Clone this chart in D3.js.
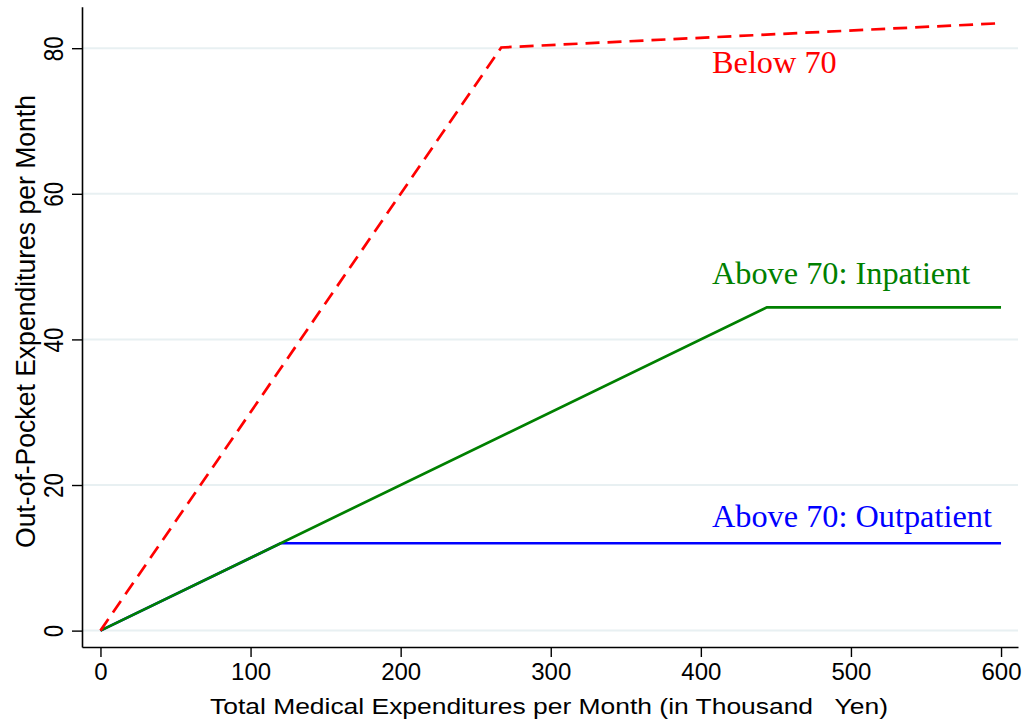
<!DOCTYPE html>
<html>
<head>
<meta charset="utf-8">
<script src="https://cdn.jsdelivr.net/npm/d3@7"></script>
<style>
  body { margin: 0; background: #fff; }
  svg { display: block; }
</style>
</head>
<body>
<svg id="chart" width="1026" height="726"></svg>
<script>
// data (thousand yen)
var xTicks = [0, 100, 200, 300, 400, 500, 600];
var yTicks = [0, 20, 40, 60, 80];

var below70X = [0, 267, 600];
var below70Y = [0, 80.1, 83.43];

var inpatientX = [0, 444, 600];
var inpatientY = [0, 44.4, 44.4];

var outpatientX = [0, 120, 600];
var outpatientY = [0, 12, 12];

var seriesNames = ["Below 70", "Above 70: Inpatient", "Above 70: Outpatient"];
var seriesColors = ["#ff0000", "#008000", "#0000ff"];

var svg = d3.select("#chart");
var font = "'Liberation Sans', Arial, Helvetica, sans-serif";

var x = d3.scaleLinear().domain([-12.3, 611.3]).range([82, 1018]);
var y = d3.scaleLinear().domain([-2.25, 85.7]).range([647, 6.7]);

// grid lines
svg.selectAll("line.ygrid")
    .data(yTicks)
    .enter()
    .append("line")
    .attr("class", "ygrid")
    .attr("x1", x.range()[0])
    .attr("x2", x.range()[1])
    .attr("y1", function (d) { return y(d); })
    .attr("y2", function (d) { return y(d); })
    .attr("stroke", "#e8f0f2")
    .attr("stroke-width", 2);

// x axis
var xaxis = d3.axisBottom(x).tickValues(xTicks).tickSize(10).tickSizeOuter(0).tickPadding(6);
var gx = svg.append("g")
    .attr("transform", "translate(0," + y.range()[0] + ")")
    .call(xaxis);
gx.select(".domain").attr("stroke", "#000").attr("stroke-width", 1.6);
gx.selectAll(".tick line").attr("stroke", "#000").attr("stroke-width", 1.4);
gx.selectAll(".tick text")
    .attr("font-family", font)
    .attr("font-size", 24)
    .attr("fill", "#000");

// y axis (labels turned, glyphs a bit wider like the original)
var yaxis = d3.axisLeft(y).tickValues(yTicks).tickSize(10).tickSizeOuter(0);
var gy = svg.append("g")
    .attr("transform", "translate(" + x.range()[0] + ",0)")
    .call(yaxis);
gy.select(".domain").attr("stroke", "#000").attr("stroke-width", 1.6);
gy.selectAll(".tick line").attr("stroke", "#000").attr("stroke-width", 1.4);
gy.selectAll(".tick text")
    .attr("font-family", font)
    .attr("font-size", 27)
    .attr("fill", "#000")
    .attr("text-anchor", "middle")
    .attr("transform", "rotate(-90)")
    .attr("x", 0)
    .attr("y", -19)
    .attr("dy", 0)
    .attr("textLength", function (d) { return 12.5 * String(d).length; })
    .attr("lengthAdjust", "spacingAndGlyphs");

// axis titles
svg.append("text")
    .attr("x", 210)
    .attr("y", 714)
    .attr("font-family", font)
    .attr("font-size", 22)
    .attr("textLength", 678)
    .attr("lengthAdjust", "spacingAndGlyphs")
    .style("white-space", "pre")
    .text("Total Medical Expenditures per Month (in Thousand   Yen)");

svg.append("text")
    .attr("transform", "translate(35,548) rotate(-90)")
    .attr("font-family", font)
    .attr("font-size", 27)
    .attr("textLength", 453)
    .attr("lengthAdjust", "spacingAndGlyphs")
    .text("Out-of-Pocket Expenditures per Month");

// lines
var line = d3.line()
    .x(function (d) { return x(d[0]); })
    .y(function (d) { return y(d[1]); });

var series = [
    { xs: outpatientX, ys: outpatientY, color: seriesColors[2], dash: null },
    { xs: inpatientX, ys: inpatientY, color: seriesColors[1], dash: null },
    { xs: below70X, ys: below70Y, color: seriesColors[0], dash: "14,8" }
];

series.forEach(function (s) {
    svg.append("path")
        .datum(d3.zip(s.xs, s.ys))
        .attr("d", line)
        .attr("fill", "none")
        .attr("stroke", s.color)
        .attr("stroke-width", 2.7)
        .attr("stroke-dasharray", s.dash);
});

// series labels
var labelY = [73, 284, 527];
seriesNames.forEach(function (name, i) {
    svg.append("text")
        .attr("x", 712)
        .attr("y", labelY[i])
        .attr("font-family", "'Liberation Serif', 'Times New Roman', serif")
        .attr("font-size", 32.3)
        .attr("fill", seriesColors[i])
        .text(name);
});
</script>
</body>
</html>
